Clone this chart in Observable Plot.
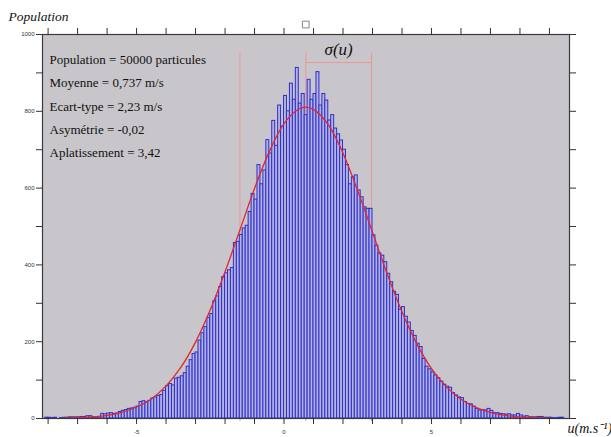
<!DOCTYPE html>
<html>
<head>
<meta charset="utf-8">
<script src="https://cdn.jsdelivr.net/npm/d3@7"></script>
<script src="https://cdn.jsdelivr.net/npm/@observablehq/plot@0.6"></script>
<style>
  html, body { margin: 0; padding: 0; background: #fff; }
  #chart svg { display: block; }
</style>
</head>
<body>
<div id="chart"></div>
<script>
// Histogram: bins of width 0.1 starting at -8.1 (m/s), counts
const binStart = -8.1;
const binWidth = 0.1;
const counts = [
  2,
  2, 1, 2, 0, 1, 2, 2, 3, 3, 3,            // -8.0 .. -7.1
  3, 4, 4, 6, 6, 3, 3, 4, 12, 11,          // -7.0 .. -6.1
  13, 14, 12, 13, 17, 20, 22, 25, 26, 28,  // -6.0 .. -5.1
  31, 43, 45, 42, 46, 52, 55, 59, 61, 72,  // -5.0 .. -4.1
  84, 90, 86, 104, 106, 110, 118, 135, 152, 168,   // -4.0 .. -3.1
  172, 203, 222, 238, 262, 272, 305, 318, 342, 368, // -3.0 .. -2.1
  378, 386, 392, 457, 460, 478, 495, 502, 538, 585, // -2.0 .. -1.1
  570, 660, 610, 646, 725, 690, 775, 710, 815, 760, // -1.0 .. -0.1
  840, 800, 872, 830, 913, 820, 845, 790, 882, 830, // 0.0 .. 0.9
  845, 902, 815, 845, 828, 776, 790, 755, 740, 724, // 1.0 .. 1.9
  700, 660, 610, 628, 633, 594, 576, 550, 546, 546, // 2.0 .. 2.9
  477, 450, 430, 424, 407, 377, 355, 330, 322, 283, // 3.0 .. 3.9
  290, 265, 250, 228, 215, 195, 186, 155, 135, 128, // 4.0 .. 4.9
  120, 112, 105, 96, 88, 83, 80, 66, 60, 55,        // 5.0 .. 5.9
  53, 43, 38, 37, 31, 25, 21, 22, 21, 25,           // 6.0 .. 6.9
  20, 14, 14, 12, 11, 10, 11, 8, 8, 12,             // 7.0 .. 7.9
  8, 5, 6, 3, 3, 3, 4, 4, 2, 2,                     // 8.0 .. 8.9
  2, 1, 1, 2, 2                                     // 9.0 .. 9.4
];

// Fitted normal curve
const curveX = [-7.5, -7, -6.5, -6, -5.5, -5, -4.5, -4, -3.5, -3, -2.5, -2, -1.5, -1, -0.5, 0, 0.5, 0.74, 1, 1.5, 2, 2.5, 3, 3.5, 4, 4.5, 5, 5.5, 6, 6.5, 7, 7.5, 8, 8.5, 9];
const curveY = [1, 2, 4, 8, 16, 30, 51, 85, 133, 199, 283, 382, 490, 599, 695, 768, 806, 811, 805, 765, 691, 593, 485, 376, 278, 195, 130, 83, 50, 29, 16, 8, 4, 2, 1];

// Statistics
const statsLines = [
  "Population = 50000 particules",
  "Moyenne = 0,737 m/s",
  "Ecart-type = 2,23 m/s",
  "Asymétrie = -0,02",
  "Aplatissement = 3,42"
];
const mean = 0.737;
const sd = 2.23;

// Axes
const xTicks = [-8, -7, -6, -5, -4, -3, -2, -1, 0, 1, 2, 3, 4, 5, 6, 7, 8, 9];
const xTickLabels = [-5, 0, 5];
const yTicks = [0, 100, 200, 300, 400, 500, 600, 700, 800, 900, 1000];
const yTickLabels = [0, 200, 400, 600, 800, 1000];

const bars = counts.map((c, i) => ({
  x1: binStart + i * binWidth,
  x2: binStart + (i + 1) * binWidth,
  y: c
}));
const curve = curveX.map((x, i) => ({x, y: curveY[i]}));
const sigmaLines = [mean - sd, mean, mean + sd];

const serif = "'Liberation Serif', 'Times New Roman', serif";
const bg = "#c8c6ca";
const pink = "#ec9894";

const chart = Plot.plot({
  width: 611,
  height: 437,
  marginLeft: 42,
  marginRight: 42,
  marginTop: 34,
  marginBottom: 19,
  x: {domain: [-8.19, 9.68]},
  y: {domain: [0, 1000]},
  style: {background: "#fff", fontFamily: "'Liberation Sans', Arial, sans-serif"},
  marks: [
    Plot.frame({fill: bg, stroke: "none"}),
    Plot.ruleX(sigmaLines, {x: d => d, y1: -8, y2: 951, stroke: pink, strokeWidth: 1}),
    Plot.ruleY([927], {x1: mean, x2: mean + sd, stroke: pink, strokeWidth: 1}),
    Plot.rectY(bars, {x1: "x1", x2: "x2", y: "y", fill: "#b2b2e4", stroke: "#2f2fcc", strokeWidth: 1}),
    Plot.line(curve, {x: "x", y: "y", curve: "catmull-rom", stroke: "#e3262e", strokeWidth: 1.3}),
    Plot.frame({stroke: "#3a3a3a", strokeWidth: 1.2}),
    Plot.axisY({anchor: "left", ticks: yTicks, tickSize: 6, tickPadding: 2,
      tickFormat: d => yTickLabels.includes(d) ? String(d) : "", fontSize: 6, color: "#333", label: null}),
    Plot.axisY({anchor: "right", ticks: yTicks, tickSize: 6, tickFormat: () => "", color: "#333", label: null}),
    Plot.axisX({anchor: "top", ticks: xTicks, tickSize: 7, tickFormat: () => "", color: "#333", label: null}),
    Plot.axisX({anchor: "bottom", ticks: xTicks, tickSize: 6, tickPadding: 5,
      tickFormat: d => xTickLabels.includes(d) ? String(d) : "", fontSize: 6, color: "#333", label: null}),
    Plot.dot([mean], {x: d => d, y: 1026, symbol: "square", r: 3.8, stroke: "#888", fill: "#fff", strokeWidth: 1}),
    Plot.text(["σ(u)"], {x: mean + sd / 2, y: 961, fontSize: 17, fontStyle: "italic", fontFamily: serif, fill: "#111", lineAnchor: "middle"}),
    Plot.text([statsLines.join("\n")], {frameAnchor: "top-left", dx: 7, dy: 13, lineAnchor: "top", textAnchor: "start",
      lineHeight: 1.79, fontSize: 13, fontFamily: serif, fill: "#111"}),
    Plot.text(["Population"], {frameAnchor: "top-left", dx: -34, dy: -18, lineAnchor: "middle", textAnchor: "start",
      fontSize: 13.5, fontStyle: "italic", fontFamily: serif, fill: "#111"}),
    Plot.text(["u(m.s⁻¹)"], {frameAnchor: "bottom-right", dx: -2, dy: 10, lineAnchor: "middle", textAnchor: "start",
      fontSize: 14, fontStyle: "italic", fontFamily: serif, fill: "#111"})
  ]
});
document.getElementById("chart").appendChild(chart);
</script>
</body>
</html>
